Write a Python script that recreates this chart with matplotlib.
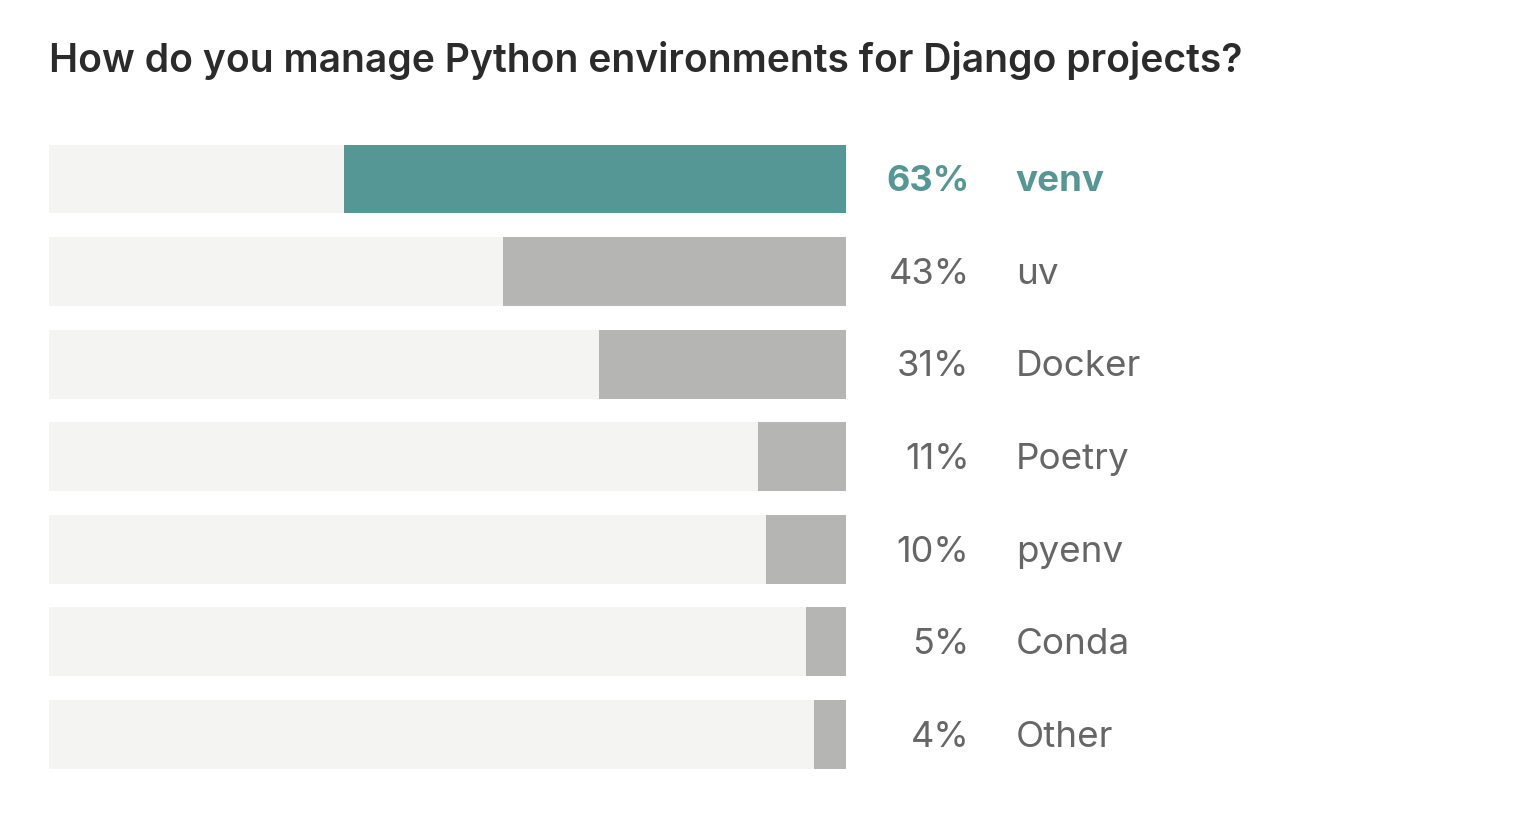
import matplotlib
matplotlib.use("Agg")
import matplotlib.pyplot as plt

TITLE = "How do you manage Python environments for Django projects?"
tools = ["venv", "uv", "Docker", "Poetry", "pyenv", "Conda", "Other"]
shares = [63, 43, 31, 11, 10, 5, 4]

TEAL = "#559794"
GREY_BAR = "#b5b5b4"
TRACK = "#f4f4f3"
TEXT = "#666666"

plt.rcParams["font.family"] = ["Inter", "DejaVu Sans"]

fig = plt.figure(figsize=(15.14, 8.24), dpi=100)
fig.patch.set_facecolor("white")

W, H = 1514, 824
ax = fig.add_axes([49 / W, 1 - 780.8 / H, (846 - 49) / W, (780.8 - 132.7) / H])

rows = list(range(len(tools)))
ax.barh(rows, [100] * len(tools), height=0.745, color=TRACK, left=0)
colors = [TEAL if i == 0 else GREY_BAR for i in rows]
ax.barh(rows, shares, height=0.745, left=[100 - s for s in shares], color=colors)

for i, (t, s) in enumerate(zip(tools, shares)):
    top = i == 0
    c = TEAL if top else TEXT
    w = "bold" if top else "normal"
    ax.text(115.5, i + 0.03, f"{s}%", ha="right", va="center", fontsize=26,
            color=c, fontweight=w, clip_on=False)
    ax.text(121.3, i + 0.03, t, ha="left", va="center", fontsize=26.5,
            color=c, fontweight=w, clip_on=False)

ax.set_xlim(0, 100)
ax.set_ylim(len(tools) - 0.5, -0.5)
ax.axis("off")

fig.text(49 / W, 1 - 60 / H, TITLE, ha="left", va="center", fontsize=28.1,
         color="#2b2b2b", fontweight="semibold")

fig.savefig("out.png", dpi=100, facecolor="white")
